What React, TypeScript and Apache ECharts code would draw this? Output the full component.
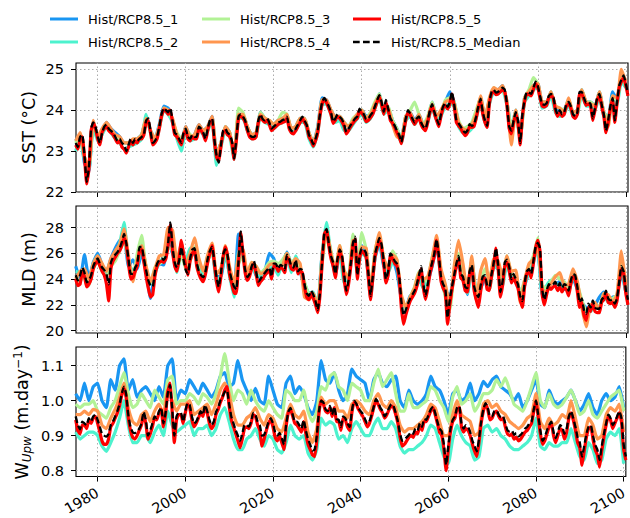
import React, { useEffect, useRef } from "react";
import * as echarts from "echarts";

const START_YEAR = 1975;

// ---------- Sea surface temperature (°C) ----------
// half-yearly values, 1975.0 .. 2100.5
const sstMedian = [
  23.2, 23.1, 23.35, 23.4, 22.9, 22.25, 22.6, 23.55, 23.7, 23.6,
  23.35, 23.2, 23.45, 23.6, 23.65, 23.55, 23.5, 23.45, 23.35, 23.25,
  23.3, 23.2, 23.15, 23.0, 23.15, 23.3, 23.2, 23.3, 23.25, 23.3,
  23.35, 23.4, 23.75, 23.8, 23.5, 23.2, 23.25, 23.35, 23.6, 23.9,
  24.05, 24.0, 23.95, 24.05, 23.75, 23.45, 23.4, 23.3, 23.2, 23.45,
  23.55, 23.35, 23.3, 23.4, 23.35, 23.35, 23.6, 23.55, 23.45, 23.3,
  23.55, 23.75, 23.8, 23.3, 22.9, 22.72, 23.15, 23.5, 23.55, 23.45,
  23.4, 23.25, 22.82, 23.3, 23.85, 23.9, 23.85, 23.75, 23.55, 23.4,
  23.35, 23.35, 23.4, 23.75, 23.9, 23.78, 23.75, 23.8, 23.7, 23.55,
  23.6, 23.65, 23.7, 23.72, 23.76, 23.78, 23.84, 23.6, 23.5, 23.47,
  23.55, 23.65, 23.75, 23.84, 23.75, 23.64, 23.4, 23.3, 23.17, 23.3,
  23.5, 23.9, 24.2, 24.3, 24.21, 24.1, 23.95, 23.72, 23.8, 23.9,
  23.84, 23.78, 23.65, 23.47, 23.55, 23.64, 23.72, 23.8, 23.85, 24.04,
  23.96, 23.9, 23.78, 23.8, 23.88, 23.95, 24.1, 24.25, 24.37, 24.2,
  23.96, 24.25, 24.04, 23.8, 23.72, 23.62, 23.5, 23.4, 23.22, 23.5,
  23.8, 24.0, 23.92, 23.8, 23.7, 23.8, 23.85, 23.7, 23.6, 23.55,
  23.75, 24.0, 24.15, 23.96, 23.8, 23.65, 23.9, 24.1, 24.17, 24.08,
  24.2, 24.45, 24.15, 23.75, 23.68, 23.6, 23.5, 23.45, 23.5, 23.66,
  23.62, 23.65, 23.85, 24.1, 24.28, 23.95, 23.75, 23.62, 24.2, 24.45,
  24.5, 24.43, 24.45, 24.5, 24.55, 24.5, 24.15, 23.6, 23.5, 23.75,
  23.95, 23.75, 23.2, 23.9, 24.25, 24.45, 24.43, 24.4, 24.55, 24.7,
  24.6, 24.35, 24.15, 24.13, 24.17, 24.35, 24.4, 24.35, 24.05, 23.9,
  24.0, 23.9, 23.95, 24.15, 24.2, 24.1, 23.9, 23.85, 23.95, 24.45,
  24.45, 24.3, 24.18, 24.2, 24.15, 23.8, 24.05, 24.3, 24.4, 24.15,
  23.9, 23.5, 23.75, 24.1, 24.3, 23.75, 24.2, 24.6, 24.75, 24.85,
  24.65, 24.4,
];
const sstRun5 = [
  23.15, 23.05, 23.3, 23.35, 22.85, 22.2, 22.55, 23.5, 23.68, 23.55,
  23.3, 23.15, 23.45, 23.55, 23.6, 23.5, 23.45, 23.4, 23.3, 23.2,
  23.25, 23.1, 23.05, 22.95, 23.1, 23.25, 23.15, 23.25, 23.2, 23.3,
  23.3, 23.4, 23.7, 23.75, 23.45, 23.15, 23.2, 23.3, 23.55, 23.85,
  24.0, 23.98, 23.9, 24.0, 23.7, 23.4, 23.35, 23.25, 23.15, 23.4,
  23.5, 23.3, 23.25, 23.35, 23.3, 23.3, 23.55, 23.5, 23.4, 23.25,
  23.5, 23.7, 23.75, 23.25, 22.85, 22.75, 23.1, 23.45, 23.5, 23.4,
  23.35, 23.2, 22.8, 23.25, 23.8, 23.85, 23.8, 23.7, 23.5, 23.35,
  23.3, 23.3, 23.35, 23.7, 23.85, 23.75, 23.7, 23.75, 23.65, 23.5,
  23.55, 23.6, 23.65, 23.68, 23.7, 23.72, 23.8, 23.55, 23.45, 23.42,
  23.5, 23.6, 23.7, 23.8, 23.7, 23.6, 23.35, 23.25, 23.12, 23.25,
  23.45, 23.85, 24.15, 24.28, 24.18, 24.05, 23.9, 23.68, 23.75, 23.85,
  23.8, 23.72, 23.6, 23.42, 23.5, 23.6, 23.68, 23.75, 23.8, 24.0,
  23.92, 23.85, 23.72, 23.75, 23.82, 23.9, 24.05, 24.2, 24.32, 24.15,
  23.9, 24.2, 24.0, 23.75, 23.68, 23.58, 23.45, 23.35, 23.18, 23.45,
  23.75, 23.95, 23.88, 23.75, 23.65, 23.75, 23.8, 23.65, 23.55, 23.5,
  23.7, 23.95, 24.1, 23.92, 23.75, 23.6, 23.85, 24.05, 24.12, 24.03,
  24.15, 24.4, 24.1, 23.7, 23.62, 23.55, 23.45, 23.38, 23.45, 23.6,
  23.58, 23.6, 23.8, 24.05, 24.22, 23.9, 23.7, 23.58, 24.15, 24.4,
  24.45, 24.38, 24.4, 24.45, 24.5, 24.45, 24.1, 23.55, 23.42, 23.7,
  23.9, 23.7, 23.15, 23.85, 24.2, 24.4, 24.38, 24.35, 24.5, 24.65,
  24.55, 24.3, 24.1, 24.08, 24.12, 24.3, 24.35, 24.3, 24.0, 23.85,
  23.95, 23.85, 23.9, 24.1, 24.15, 24.05, 23.85, 23.8, 23.9, 24.4,
  24.4, 24.25, 24.12, 24.15, 24.1, 23.75, 24.0, 24.25, 24.35, 24.1,
  23.85, 23.45, 23.7, 24.05, 24.25, 23.7, 24.15, 24.55, 24.7, 24.8,
  24.6, 24.35,
];
// yearly values, 1975 .. 2100
const sstRun1 = [
  23.25, 23.4, 22.7, 22.5, 23.72, 23.35, 23.5, 23.7, 23.55, 23.45,
  23.35, 23.2, 23.2, 23.25, 23.3, 23.4, 23.8, 23.5, 23.3, 23.65,
  24.1, 24.05, 23.75, 23.4, 23.25, 23.6, 23.35, 23.4, 23.65, 23.5,
  23.6, 23.85, 22.95, 23.2, 23.6, 23.45, 22.9, 23.9, 23.9, 23.6,
  23.4, 23.45, 23.95, 23.8, 23.72, 23.65, 23.75, 23.8, 23.85, 23.55,
  23.6, 23.8, 23.8, 23.45, 23.2, 23.6, 24.3, 24.25, 24.0, 23.85,
  23.85, 23.7, 23.6, 23.75, 23.9, 24.0, 23.85, 23.9, 24.15, 24.4,
  24.0, 24.05, 23.75, 23.55, 23.3, 23.85, 23.95, 23.75, 23.9, 23.65,
  23.8, 24.2, 23.85, 23.95, 24.2, 24.45, 24.2, 23.7, 23.55, 23.55,
  23.65, 23.9, 24.3, 23.8, 24.25, 24.5, 24.5, 24.6, 24.2, 23.55,
  24.0, 23.4, 24.3, 24.45, 24.6, 24.65, 24.2, 24.2, 24.45, 24.1,
  23.95, 24.0, 24.25, 23.95, 24.0, 24.5, 24.2, 24.2, 24.1, 24.45,
  23.95, 23.8, 24.45, 24.25, 24.8, 24.7,
];
const sstRun2 = [
  23.0, 23.3, 22.8, 22.55, 23.6, 23.25, 23.4, 23.6, 23.45, 23.3,
  23.2, 23.05, 23.1, 23.15, 23.2, 23.3, 23.9, 23.45, 23.2, 23.55,
  24.0, 23.9, 23.7, 23.3, 23.0, 23.5, 23.25, 23.3, 23.55, 23.4,
  23.5, 23.75, 22.65, 23.1, 23.5, 23.35, 22.8, 23.8, 23.8, 23.5,
  23.3, 23.35, 23.85, 23.7, 23.65, 23.55, 23.65, 23.7, 23.8, 23.45,
  23.5, 23.7, 23.7, 23.3, 23.1, 23.45, 24.15, 24.15, 23.9, 23.7,
  23.75, 23.5, 23.5, 23.65, 23.8, 23.9, 23.7, 23.8, 24.05, 24.3,
  23.9, 24.0, 23.65, 23.45, 23.2, 23.75, 23.85, 23.65, 23.8, 23.55,
  23.7, 24.1, 23.75, 23.85, 24.1, 24.15, 24.1, 23.6, 23.45, 23.45,
  23.55, 23.8, 24.2, 23.7, 24.15, 24.45, 24.4, 24.5, 24.1, 23.45,
  23.9, 23.3, 24.2, 24.35, 24.5, 24.55, 24.05, 24.1, 24.35, 23.95,
  23.85, 23.9, 24.15, 23.85, 23.9, 24.4, 24.1, 24.1, 24.0, 24.35,
  23.85, 23.7, 24.25, 24.15, 24.7, 24.55,
];
const sstRun3 = [
  23.2, 23.4, 22.85, 22.6, 23.7, 23.4, 23.5, 23.65, 23.5, 23.35,
  23.3, 23.2, 23.2, 23.25, 23.3, 23.4, 23.8, 23.5, 23.3, 23.6,
  24.05, 24.0, 23.75, 23.45, 23.3, 23.55, 23.4, 23.35, 23.6, 23.45,
  23.6, 23.8, 22.9, 23.2, 23.6, 23.45, 22.9, 24.05, 23.95, 23.6,
  23.4, 23.45, 23.95, 23.8, 23.75, 23.65, 23.75, 23.95, 23.9, 23.55,
  23.6, 23.8, 23.8, 23.45, 23.2, 23.55, 24.25, 24.2, 24.0, 23.8,
  23.85, 23.7, 23.6, 23.8, 23.9, 24.0, 23.8, 23.95, 24.2, 24.4,
  24.0, 24.1, 23.75, 23.55, 23.3, 23.85, 24.0, 24.2, 23.9, 23.65,
  23.85, 24.2, 23.85, 23.95, 24.25, 24.3, 24.2, 23.75, 23.55, 23.6,
  23.7, 24.0, 24.3, 23.8, 24.25, 24.55, 24.45, 24.55, 24.2, 23.55,
  24.0, 23.3, 24.3, 24.5, 24.8, 24.65, 24.2, 24.2, 24.45, 24.1,
  24.05, 24.0, 24.25, 23.95, 23.95, 24.5, 24.2, 24.2, 24.1, 24.45,
  23.95, 23.8, 24.35, 24.25, 24.8, 24.6,
];
const sstRun4 = [
  23.25, 23.45, 22.85, 22.6, 23.75, 23.35, 23.55, 23.7, 23.55, 23.4,
  23.35, 23.2, 23.2, 23.3, 23.3, 23.4, 23.8, 23.5, 23.3, 23.6,
  24.05, 24.0, 23.8, 23.4, 23.2, 23.6, 23.35, 23.4, 23.65, 23.5,
  23.6, 23.85, 22.9, 23.2, 23.6, 23.45, 22.85, 23.9, 23.9, 23.6,
  23.4, 23.45, 23.9, 23.8, 23.75, 23.65, 23.75, 23.8, 23.9, 23.55,
  23.6, 23.8, 23.8, 23.45, 23.2, 23.55, 24.25, 24.25, 24.0, 23.85,
  23.85, 23.7, 23.6, 23.75, 23.9, 24.0, 23.8, 23.9, 24.15, 24.35,
  23.95, 24.05, 23.65, 23.35, 23.3, 23.85, 23.95, 23.7, 23.9, 23.6,
  23.8, 24.15, 23.85, 24.0, 24.2, 24.25, 24.15, 23.7, 23.55, 23.5,
  23.65, 23.9, 24.35, 23.8, 24.3, 24.55, 24.5, 24.6, 24.2, 23.15,
  24.0, 23.3, 24.3, 24.45, 24.6, 24.65, 24.2, 24.2, 24.45, 24.1,
  24.05, 23.95, 24.3, 23.95, 24.0, 24.5, 24.2, 24.15, 24.1, 24.45,
  23.9, 23.6, 24.35, 24.3, 25.0, 24.7,
];

// ---------- Mixed layer depth (m) ----------
const mldMedian = [
  24.3, 23.9, 24.3, 24.9, 24.5, 23.75, 23.9, 24.3, 25.0, 25.4,
  25.6, 25.2, 24.9, 24.7, 24.4, 23.6, 25.3, 25.7, 25.9, 26.1,
  26.4, 26.9, 27.5, 26.8, 25.6, 24.4, 24.4, 24.9, 25.2, 26.5,
  26.5, 25.6, 24.7, 23.9, 23.5, 23.4, 24.6, 25.2, 25.5, 25.6,
  25.5, 25.8, 26.8, 28.4, 26.5, 25.3, 24.9, 25.4, 26.5, 25.5,
  24.7, 24.4, 25.6, 26.3, 26.4, 25.3, 24.6, 24.3, 24.15, 24.6,
  25.6, 26.2, 26.5, 25.4, 24.15, 23.4, 24.5, 25.9, 26.3, 25.9,
  24.6, 23.9, 23.4, 23.2, 25.4, 27.7, 26.0, 24.7, 24.15, 24.4,
  25.0, 25.4, 24.6, 23.8, 24.0, 24.3, 24.5, 24.7, 24.9, 24.2,
  25.2, 25.2, 24.8, 25.1, 25.0, 24.7, 25.9, 25.6, 25.0, 24.9,
  25.5, 24.6, 24.8, 24.7, 23.6, 22.9, 22.7, 23.1, 22.8, 22.3,
  21.6, 22.9, 25.4, 27.6, 27.9, 26.8, 25.8, 25.3, 24.4, 25.6,
  26.3, 25.9, 24.4, 23.1, 23.9, 25.2, 26.8, 27.3, 24.3, 25.8,
  26.4, 26.3, 26.0, 24.5, 22.7, 24.2, 25.9, 26.6, 27.2, 26.7,
  25.4, 24.0, 24.6, 26.0, 25.8, 25.4, 25.2, 24.3, 22.3, 21.2,
  21.6, 22.1, 22.5, 22.8, 23.1, 23.6, 24.3, 25.0, 23.6, 22.7,
  23.6, 24.6, 25.3, 26.0, 27.1, 25.9, 24.2, 23.6, 23.3, 21.0,
  22.4, 23.4, 24.3, 25.2, 25.8, 24.4, 24.2, 23.4, 23.3, 24.6,
  25.1, 23.5, 22.9, 22.6, 23.5, 24.2, 24.3, 23.5, 23.4, 24.4,
  25.3, 26.4, 25.1, 23.0, 23.8, 25.3, 25.5, 25.0, 24.0, 24.4,
  24.0, 23.6, 22.7, 22.3, 23.7, 24.6, 24.8, 24.4, 25.4, 26.5,
  26.8, 26.4, 23.2, 22.4, 23.1, 23.6, 23.5, 23.6, 23.8, 23.4,
  23.7, 23.3, 23.6, 23.5, 23.1, 23.9, 24.4, 24.3, 23.4, 22.2,
  22.5, 21.6, 21.3, 22.1, 21.8, 22.35, 21.8, 21.7, 21.7, 22.4,
  22.6, 23.1, 22.5, 22.35, 22.4, 22.1, 22.5, 23.8, 25.0, 24.6,
  23.2, 22.4,
];
const mldRun5 = [
  24.0, 23.5, 23.6, 24.5, 24.2, 23.4, 23.6, 24.0, 24.8, 25.2,
  25.4, 25.0, 24.6, 24.3, 23.6, 22.3, 24.8, 25.4, 25.7, 26.0,
  26.2, 26.6, 27.2, 26.6, 25.2, 24.0, 24.1, 24.6, 25.0, 26.2,
  26.3, 25.3, 24.2, 23.3, 22.6, 22.8, 24.2, 25.0, 25.3, 25.4,
  25.3, 25.6, 26.6, 28.2, 26.2, 25.0, 24.6, 25.6, 27.0, 26.0,
  25.0, 24.3, 25.4, 26.0, 26.2, 25.0, 24.4, 24.0, 23.8, 24.4,
  25.3, 26.0, 26.6, 25.2, 23.8, 23.0, 24.2, 25.7, 26.5, 25.8,
  24.3, 23.6, 22.9, 22.9, 25.2, 27.6, 26.0, 24.5, 23.9, 24.2,
  24.8, 25.2, 24.4, 23.5, 23.8, 24.0, 24.3, 24.5, 24.7, 24.0,
  25.0, 25.0, 24.6, 24.9, 24.8, 24.5, 25.7, 25.4, 24.8, 24.7,
  25.3, 24.4, 24.6, 24.5, 23.4, 22.6, 22.4, 22.9, 22.5, 22.0,
  21.4, 22.7, 25.2, 27.5, 27.8, 26.6, 25.6, 25.0, 24.1, 25.4,
  26.1, 25.6, 24.0, 22.8, 23.6, 25.0, 26.6, 27.1, 24.0, 25.6,
  26.2, 26.0, 25.7, 24.1, 22.4, 24.0, 25.7, 26.4, 27.0, 26.4,
  25.1, 23.7, 24.3, 25.8, 25.6, 25.2, 25.0, 24.0, 21.8, 20.5,
  21.2, 21.8, 22.3, 22.6, 22.9, 23.4, 24.1, 24.8, 23.3, 22.4,
  23.3, 24.4, 25.1, 25.8, 27.0, 25.6, 23.9, 23.3, 22.9, 20.5,
  22.0, 23.2, 24.1, 25.0, 25.6, 24.1, 23.9, 23.1, 23.0, 24.4,
  24.9, 23.2, 22.4, 21.8, 23.0, 24.0, 24.1, 23.2, 23.1, 24.2,
  25.1, 26.4, 24.8, 22.6, 23.5, 25.0, 25.3, 24.7, 23.7, 24.1,
  23.7, 23.3, 22.4, 21.8, 23.4, 24.4, 24.6, 24.1, 25.2, 26.4,
  27.0, 26.2, 22.8, 22.0, 22.8, 23.4, 23.2, 23.4, 23.5, 23.1,
  23.4, 23.0, 23.3, 23.2, 22.7, 23.6, 24.2, 24.0, 23.0, 21.8,
  22.2, 21.2, 20.8, 21.8, 21.5, 22.1, 21.5, 21.4, 21.4, 22.2,
  22.4, 22.9, 22.2, 22.1, 22.2, 21.8, 22.3, 23.6, 24.8, 24.4,
  22.9, 22.0,
];
const mldRun1 = [
  25.0, 24.0, 25.9, 24.0, 25.3, 26.0, 25.1, 24.5, 25.6, 26.4,
  27.0, 27.2, 25.0, 25.5, 24.8, 26.0, 24.6, 22.5, 24.5, 25.2,
  25.1, 27.0, 26.0, 25.1, 26.2, 25.0, 25.6, 26.1, 24.8, 24.5,
  25.5, 26.2, 24.2, 24.2, 26.0, 24.3, 23.0, 27.5, 26.2, 24.0,
  25.1, 24.3, 24.1, 24.6, 26.0, 25.6, 24.5, 25.2, 26.1, 25.2,
  25.4, 24.6, 23.4, 22.9, 22.6, 22.0, 26.0, 27.8, 26.0, 24.3,
  26.0, 24.2, 24.0, 26.5, 25.0, 26.6, 25.8, 23.0, 25.6, 26.8,
  25.0, 24.8, 25.6, 24.5, 22.5, 21.8, 22.7, 23.0, 24.0, 23.4,
  23.8, 25.0, 26.5, 24.5, 23.2, 22.6, 24.5, 25.2, 24.0, 22.8,
  25.5, 23.2, 23.3, 24.0, 23.6, 25.0, 24.8, 24.0, 25.2, 24.2,
  24.2, 22.9, 23.5, 24.6, 25.6, 26.2, 22.8, 23.4, 23.8, 23.6,
  23.8, 23.2, 23.4, 24.0, 23.2, 22.2, 21.8, 21.8, 22.0, 22.6,
  23.0, 22.4, 22.6, 22.7, 24.5, 23.0,
];
const mldRun2 = [
  24.6, 24.5, 24.6, 23.7, 25.2, 25.8, 24.7, 24.6, 25.5, 26.0,
  26.8, 28.4, 25.2, 24.7, 25.0, 26.8, 24.9, 23.6, 24.4, 25.4,
  25.6, 27.2, 26.6, 24.5, 26.0, 25.4, 26.4, 26.3, 24.9, 24.4,
  25.8, 26.2, 23.7, 24.3, 26.0, 24.2, 22.6, 26.2, 25.8, 24.3,
  24.9, 24.4, 24.2, 24.3, 24.8, 25.0, 24.3, 25.3, 25.6, 24.5,
  25.8, 24.9, 23.7, 22.9, 23.0, 21.9, 26.0, 28.4, 25.9, 24.5,
  26.0, 23.7, 24.1, 26.5, 24.7, 26.0, 25.7, 22.6, 25.6, 27.0,
  25.2, 24.5, 25.3, 25.0, 22.6, 21.7, 22.5, 23.3, 24.0, 23.3,
  23.9, 25.3, 26.8, 24.0, 22.8, 22.3, 24.5, 25.6, 24.1, 22.9,
  24.6, 22.5, 23.6, 24.2, 23.2, 25.0, 24.8, 23.5, 25.3, 24.0,
  24.1, 22.9, 23.6, 24.5, 25.3, 26.5, 22.8, 23.5, 23.9, 23.7,
  23.5, 23.4, 23.0, 24.2, 23.4, 22.3, 21.4, 21.5, 21.9, 21.9,
  22.8, 22.2, 22.3, 22.6, 24.8, 23.0,
];
const mldRun3 = [
  24.2, 23.8, 24.4, 23.5, 24.8, 25.4, 24.6, 24.2, 25.0, 25.4,
  26.2, 27.0, 25.4, 24.1, 26.0, 27.4, 24.6, 23.7, 24.9, 25.2,
  25.4, 26.5, 26.2, 24.6, 26.0, 24.8, 25.4, 26.5, 24.4, 24.0,
  25.4, 26.2, 24.4, 24.8, 26.2, 24.8, 23.6, 25.2, 25.8, 24.5,
  25.3, 25.0, 24.5, 24.8, 25.3, 25.4, 25.2, 25.5, 26.0, 25.3,
  25.6, 24.8, 23.8, 22.8, 22.9, 21.8, 25.2, 27.6, 26.2, 24.6,
  26.6, 24.6, 24.2, 27.5, 24.6, 27.6, 26.3, 23.2, 26.2, 27.4,
  25.6, 24.8, 26.2, 25.5, 22.6, 21.8, 22.6, 23.4, 24.6, 23.8,
  24.0, 25.7, 27.0, 24.6, 22.6, 21.6, 24.6, 26.0, 24.6, 23.6,
  25.3, 23.2, 23.8, 24.8, 24.0, 25.4, 25.0, 23.7, 25.8, 24.4,
  24.2, 22.9, 23.9, 25.0, 25.8, 27.2, 23.5, 23.3, 23.8, 24.3,
  24.0, 23.8, 23.3, 24.6, 23.6, 22.4, 21.5, 21.6, 22.0, 21.8,
  22.9, 22.6, 22.5, 22.8, 25.3, 23.4,
];
const mldRun4 = [
  24.0, 24.6, 24.8, 24.0, 25.2, 25.8, 25.2, 24.6, 25.6, 26.2,
  26.7, 27.9, 25.8, 23.8, 25.5, 26.6, 25.0, 23.8, 24.8, 25.8,
  25.9, 28.0, 27.8, 25.4, 26.8, 25.1, 26.0, 27.2, 25.6, 24.6,
  25.9, 26.8, 24.4, 24.8, 26.6, 24.9, 23.7, 25.8, 26.3, 24.4,
  25.3, 25.0, 24.4, 24.6, 25.1, 25.2, 24.9, 25.1, 26.0, 25.1,
  25.6, 25.2, 22.6, 22.4, 22.9, 21.8, 25.8, 27.8, 26.0, 24.7,
  26.6, 24.7, 24.0, 27.0, 24.5, 26.5, 26.4, 23.2, 26.0, 27.6,
  25.6, 24.8, 25.9, 25.5, 22.8, 21.8, 22.6, 23.3, 24.5, 24.0,
  24.2, 25.6, 27.4, 24.8, 23.6, 22.0, 25.0, 27.0, 25.2, 23.0,
  25.8, 22.4, 24.6, 25.6, 23.6, 25.6, 25.4, 24.2, 25.8, 24.6,
  24.7, 22.2, 23.9, 25.2, 25.5, 26.6, 23.2, 23.0, 23.6, 24.2,
  24.5, 23.5, 23.6, 24.8, 23.8, 21.8, 20.3, 22.0, 22.2, 21.6,
  22.9, 22.8, 22.2, 22.8, 26.2, 23.6,
];

// ---------- Upwelling velocity (m/day) ----------
const wMedian = [
  0.955, 0.93, 0.918, 0.94, 0.935, 0.93, 0.95, 0.94, 0.955, 0.96,
  0.945, 0.926, 0.905, 0.9, 0.897, 0.905, 0.93, 0.94, 0.955, 0.97,
  0.99, 1.02, 1.04, 1.02, 0.96, 0.925, 0.91, 0.907, 0.912, 0.92,
  0.935, 0.968, 0.945, 0.9, 0.915, 0.935, 0.955, 0.95, 0.97, 0.98,
  0.935, 0.965, 1.02, 1.045, 0.98, 0.9, 0.955, 0.965, 0.965, 0.94,
  0.97, 0.993, 0.988, 0.955, 0.935, 0.94, 0.955, 0.97, 0.96, 0.988,
  0.97, 0.945, 0.93, 0.94, 0.968, 0.98, 1.0, 1.012, 1.025, 1.03,
  0.99, 0.955, 0.935, 0.915, 0.9, 0.885, 0.905, 0.93, 0.93, 0.926,
  0.94, 0.965, 0.96, 0.94, 0.93, 0.9, 0.902, 0.92, 0.94, 0.95,
  0.935, 0.91, 0.9, 0.908, 0.893, 0.874, 0.93, 0.968, 0.979, 0.96,
  0.94, 0.94, 0.93, 0.92, 0.945, 0.915, 0.89, 0.874, 0.857, 0.86,
  0.9, 0.97, 1.0, 0.995, 0.975, 0.97, 0.985, 0.96, 0.983, 0.948,
  0.945, 0.925, 0.955, 0.95, 0.935, 0.925, 0.97, 1.0, 0.992, 0.978,
  0.97, 0.962, 0.947, 0.935, 0.94, 0.96, 0.983, 1.005, 0.995, 0.98,
  0.97, 0.955, 0.965, 0.98, 0.99, 0.985, 0.965, 0.94, 0.905, 0.885,
  0.888, 0.895, 0.902, 0.91, 0.905, 0.92, 0.915, 0.935, 0.925, 0.948,
  0.945, 0.96, 0.975, 0.983, 0.965, 0.94, 0.92, 0.912, 0.874, 0.816,
  0.87, 0.92, 0.945, 0.955, 0.98, 0.985, 0.935, 0.92, 0.93, 0.925,
  0.91, 0.885, 0.87, 0.855, 0.89, 0.94, 0.975, 0.993, 0.98, 0.955,
  0.955, 0.97, 0.972, 0.96, 0.952, 0.955, 0.935, 0.915, 0.912, 0.915,
  0.902, 0.907, 0.898, 0.902, 0.91, 0.92, 0.925, 0.935, 0.94, 0.975,
  1.0, 0.96, 0.915, 0.885, 0.895, 0.915, 0.93, 0.94, 0.91, 0.893,
  0.91, 0.93, 0.925, 0.905, 0.92, 0.955, 0.97, 0.95, 0.925, 0.895,
  0.88, 0.84, 0.87, 0.905, 0.925, 0.93, 0.9, 0.874, 0.86, 0.83,
  0.87, 0.905, 0.935, 0.96, 0.95, 0.93, 0.94, 0.955, 0.97, 0.95,
  0.875, 0.84,
];
const wRun5 = [
  0.945, 0.915, 0.905, 0.93, 0.93, 0.92, 0.945, 0.935, 0.95, 0.955,
  0.935, 0.91, 0.885, 0.875, 0.875, 0.89, 0.925, 0.935, 0.95, 0.965,
  0.985, 1.015, 1.035, 1.01, 0.95, 0.915, 0.895, 0.89, 0.9, 0.915,
  0.93, 0.96, 0.935, 0.89, 0.905, 0.925, 0.95, 0.945, 0.965, 0.975,
  0.925, 0.96, 1.025, 1.05, 0.97, 0.88, 0.945, 0.96, 0.96, 0.935,
  0.965, 0.99, 0.98, 0.945, 0.925, 0.935, 0.95, 0.965, 0.955, 0.98,
  0.965, 0.935, 0.92, 0.93, 0.96, 0.975, 0.995, 1.01, 1.03, 1.04,
  0.985, 0.945, 0.925, 0.905, 0.885, 0.865, 0.89, 0.92, 0.925, 0.92,
  0.935, 0.96, 0.955, 0.93, 0.915, 0.87, 0.89, 0.915, 0.935, 0.945,
  0.925, 0.895, 0.885, 0.9, 0.88, 0.86, 0.925, 0.965, 0.975, 0.955,
  0.935, 0.93, 0.92, 0.91, 0.94, 0.905, 0.875, 0.86, 0.845, 0.84,
  0.885, 0.965, 1.0, 0.99, 0.97, 0.965, 0.98, 0.955, 0.98, 0.94,
  0.94, 0.915, 0.95, 0.945, 0.925, 0.915, 0.965, 0.995, 0.99, 0.975,
  0.965, 0.955, 0.94, 0.925, 0.935, 0.955, 0.98, 1.0, 0.99, 0.975,
  0.965, 0.95, 0.96, 0.975, 0.985, 0.98, 0.96, 0.935, 0.895, 0.87,
  0.875, 0.885, 0.895, 0.9, 0.895, 0.91, 0.905, 0.93, 0.915, 0.94,
  0.94, 0.955, 0.97, 0.98, 0.96, 0.935, 0.91, 0.9, 0.86, 0.8,
  0.86, 0.91, 0.94, 0.95, 0.975, 0.98, 0.925, 0.91, 0.92, 0.915,
  0.9, 0.875, 0.855, 0.84, 0.88, 0.935, 0.97, 0.99, 0.975, 0.945,
  0.95, 0.965, 0.97, 0.955, 0.945, 0.95, 0.925, 0.905, 0.9, 0.905,
  0.89, 0.895, 0.885, 0.89, 0.9, 0.91, 0.915, 0.925, 0.935, 0.97,
  1.0, 0.955, 0.905, 0.875, 0.885, 0.905, 0.925, 0.935, 0.9, 0.88,
  0.9, 0.92, 0.915, 0.89, 0.91, 0.95, 0.965, 0.945, 0.915, 0.88,
  0.865, 0.815, 0.855, 0.895, 0.92, 0.925, 0.89, 0.86, 0.845, 0.81,
  0.855, 0.895, 0.93, 0.955, 0.945, 0.92, 0.935, 0.95, 0.965, 0.94,
  0.86, 0.83,
];
const wRun1 = [
  1.02, 1.0, 1.05, 1.0, 1.04, 1.05, 1.0, 0.98, 1.06, 1.03,
  1.1, 1.12, 1.03, 1.06, 1.01, 1.03, 1.04, 1.02, 1.0, 1.04,
  1.01, 1.1, 1.12, 1.0, 1.03, 1.02, 1.06, 1.04, 1.02, 1.05,
  1.03, 1.01, 1.03, 1.07, 1.08, 1.04, 1.05, 1.115, 1.06, 1.03,
  1.0, 1.035, 1.0, 0.99, 1.07, 1.03, 0.99, 0.98, 1.05, 1.07,
  1.02, 1.04, 1.02, 0.98, 0.96, 1.0, 1.115, 1.06, 1.05, 1.08,
  1.03, 1.0, 1.02, 1.09, 1.07, 1.06, 1.05, 1.0, 1.06, 1.08,
  1.05, 1.04, 1.06, 1.07, 1.0, 0.98, 1.03, 1.0, 0.99, 1.0,
  1.02, 1.07, 1.04, 1.03, 1.0, 0.96, 1.02, 1.03, 1.0, 1.01,
  1.05, 1.0, 1.02, 1.055, 1.04, 1.06, 1.07, 1.04, 1.03, 1.02,
  1.0, 1.02, 0.98, 1.0, 1.03, 1.06, 0.99, 0.98, 1.03, 1.0,
  0.99, 1.0, 1.01, 1.03, 1.0, 0.97, 0.99, 1.02, 0.98, 0.96,
  1.0, 1.02, 1.0, 1.01, 1.04, 0.98,
];
const wRun2 = [
  0.91, 0.89, 0.9, 0.91, 0.91, 0.9, 0.87, 0.855, 0.88, 0.91,
  0.95, 1.0, 0.93, 0.88, 0.88, 0.9, 0.9, 0.88, 0.91, 0.93,
  0.9, 0.97, 0.93, 0.91, 0.92, 0.93, 0.94, 0.9, 0.92, 0.92,
  0.93, 0.9, 0.92, 0.96, 0.98, 0.94, 0.89, 0.86, 0.86, 0.89,
  0.9, 0.92, 0.89, 0.87, 0.9, 0.89, 0.86, 0.85, 0.88, 0.93,
  0.9, 0.89, 0.9, 0.85, 0.83, 0.86, 0.95, 0.93, 0.94, 0.93,
  0.89, 0.9, 0.88, 0.92, 0.94, 0.92, 0.9, 0.9, 0.93, 0.95,
  0.92, 0.92, 0.94, 0.92, 0.87, 0.85, 0.86, 0.86, 0.87, 0.88,
  0.9, 0.93, 0.92, 0.88, 0.84, 0.82, 0.89, 0.93, 0.9, 0.88,
  0.87, 0.83, 0.84, 0.92, 0.93, 0.91, 0.92, 0.9, 0.89, 0.87,
  0.86, 0.86, 0.87, 0.88, 0.9, 0.95, 0.87, 0.86, 0.88, 0.87,
  0.87, 0.88, 0.88, 0.92, 0.88, 0.84, 0.83, 0.88, 0.86, 0.82,
  0.83, 0.89, 0.91, 0.9, 0.92, 0.82,
];
const wRun3 = [
  0.99, 0.98, 0.99, 0.99, 1.0, 0.97, 0.96, 0.95, 0.98, 1.0,
  1.04, 1.08, 1.02, 0.98, 0.99, 1.02, 1.0, 0.98, 1.03, 1.01,
  0.99, 1.06, 1.07, 0.99, 1.0, 1.0, 1.02, 1.01, 0.99, 1.02,
  1.01, 0.99, 1.02, 1.07, 1.135, 1.06, 1.0, 1.03, 1.02, 0.99,
  1.03, 1.0, 0.98, 0.97, 1.0, 0.98, 0.96, 0.95, 1.03, 1.02,
  1.0, 1.0, 1.03, 0.97, 0.94, 0.97, 1.04, 1.03, 1.07, 1.08,
  1.04, 1.03, 1.0, 1.05, 1.04, 1.03, 1.0, 1.0, 1.05, 1.09,
  1.04, 1.06, 1.08, 1.02, 0.97, 0.97, 1.02, 0.98, 0.98, 0.99,
  1.0, 1.04, 1.03, 1.0, 0.98, 0.94, 1.01, 1.04, 0.99, 1.0,
  1.02, 0.97, 0.99, 1.02, 1.02, 1.03, 1.06, 1.04, 1.065, 1.03,
  0.99, 0.98, 0.97, 1.0, 1.04, 1.08, 1.0, 0.98, 1.02, 0.99,
  0.98, 0.99, 1.01, 1.03, 1.0, 0.96, 0.97, 1.0, 0.96, 0.95,
  0.97, 0.99, 1.01, 1.02, 1.03, 0.97,
];
const wRun4 = [
  0.96, 0.96, 0.97, 0.96, 0.975, 0.97, 0.93, 0.92, 0.95, 0.975,
  1.01, 1.05, 0.98, 0.94, 0.93, 0.96, 0.97, 0.94, 0.97, 0.99,
  0.96, 1.03, 1.0, 0.97, 0.99, 0.99, 1.0, 0.96, 0.97, 0.98,
  0.99, 0.96, 0.99, 1.03, 1.05, 1.02, 0.96, 0.93, 0.93, 0.95,
  0.96, 0.98, 0.95, 0.93, 0.96, 0.95, 0.92, 0.91, 0.95, 0.99,
  0.96, 0.95, 0.97, 0.91, 0.88, 0.92, 1.01, 0.99, 1.0, 1.0,
  0.97, 0.97, 0.95, 0.99, 1.0, 0.99, 0.97, 0.96, 1.0, 1.02,
  0.99, 0.98, 1.0, 0.98, 0.93, 0.91, 0.92, 0.92, 0.93, 0.94,
  0.96, 0.99, 0.98, 0.94, 0.9, 0.9, 0.96, 1.0, 0.96, 0.95,
  0.94, 0.9, 0.91, 0.99, 1.0, 0.98, 0.99, 0.97, 0.96, 0.94,
  0.93, 0.92, 0.93, 0.95, 0.96, 1.02, 0.94, 0.92, 0.95, 0.93,
  0.94, 0.96, 0.95, 1.0, 0.95, 0.9, 0.9, 0.95, 0.93, 0.89,
  0.9, 0.96, 0.98, 0.97, 0.99, 0.91,
];

const runNames = [
  "Hist/RCP8.5_1",
  "Hist/RCP8.5_2",
  "Hist/RCP8.5_3",
  "Hist/RCP8.5_4",
  "Hist/RCP8.5_5",
  "Hist/RCP8.5_Median",
];
const runColors = ["#1996f2", "#4df2ce", "#b2f296", "#ff964f", "#ff0000", "#000000"];

const yearTicks = [1980, 2000, 2020, 2040, 2060, 2080, 2100];
const sstTicks = [22, 23, 24, 25];
const mldTicks = [20, 22, 24, 26, 28];
const wTicks = [0.8, 0.9, 1.0, 1.1];

const FONT = "DejaVu Sans";
const TICK_FONT = 14.5;
const LEGEND_FONT = 13;
const MEDIAN_DASH = [6.7, 3.3];
const SMOOTH = 0.15;

const halfYearly = (vals: number[]) => vals.map((v, i) => [START_YEAR + i * 0.5, v]);
const yearly = (vals: number[]) => vals.map((v, i) => [START_YEAR + i, v]);

const panels = [
  {
    runs: [sstRun1, sstRun2, sstRun3, sstRun4],
    run5: sstRun5,
    median: sstMedian,
    ticks: sstTicks,
    min: 22,
    max: 25.154,
    digits: 0,
    grid: { left: 76, top: 63, width: 552, height: 129 },
  },
  {
    runs: [mldRun1, mldRun2, mldRun3, mldRun4],
    run5: mldRun5,
    median: mldMedian,
    ticks: mldTicks,
    min: 19.82,
    max: 29.67,
    digits: 0,
    grid: { left: 76, top: 206, width: 552, height: 127 },
  },
  {
    runs: [wRun1, wRun2, wRun3, wRun4],
    run5: wRun5,
    median: wMedian,
    ticks: wTicks,
    min: 0.7828,
    max: 1.1536,
    digits: 1,
    grid: { left: 76, top: 347, width: 552, height: 130 },
  },
];

function buildOption() {
  const grids = panels.map((p) => ({
    ...p.grid,
    show: true,
    borderColor: "#000",
    borderWidth: 1.1,
    backgroundColor: "transparent",
    containLabel: false,
  }));

  const xAxes = panels.map((p, i) => ({
    type: "value",
    gridIndex: i,
    min: 1975.07,
    max: 2100.5,
    axisLine: { show: false },
    splitLine: { show: false },
    axisTick: {
      show: true,
      inside: false,
      length: 5,
      customValues: yearTicks,
      lineStyle: { color: "#000", width: 1 },
    },
    axisLabel: {
      show: i === panels.length - 1,
      customValues: yearTicks,
      rotate: 30,
      margin: 15,
      fontSize: TICK_FONT,
      fontFamily: FONT,
      color: "#000",
      formatter: (v: number) => String(Math.round(v)),
    },
  }));

  const yAxes = panels.map((p, i) => ({
    type: "value",
    gridIndex: i,
    min: p.min,
    max: p.max,
    axisLine: { show: false },
    splitLine: { show: false },
    axisTick: {
      show: true,
      inside: false,
      length: 5,
      customValues: p.ticks,
      lineStyle: { color: "#000", width: 1 },
    },
    axisLabel: {
      show: true,
      customValues: p.ticks,
      margin: 12,
      fontSize: TICK_FONT,
      fontFamily: FONT,
      color: "#000",
      formatter: (v: number) => v.toFixed(p.digits),
    },
  }));

  const series: any[] = [];
  panels.forEach((p, i) => {
    const gridLines = {
      silent: true,
      symbol: ["none", "none"],
      label: { show: false },
      emphasis: { disabled: true },
      animation: false,
      lineStyle: { color: "#aaaaaa", width: 1, type: [1.5, 2.5] },
      data: [
        ...yearTicks.map((v) => ({ xAxis: v })),
        ...p.ticks.map((v) => ({ yAxis: v })),
      ],
    };
    p.runs.forEach((vals, k) => {
      series.push({
        name: runNames[k],
        type: "line",
        xAxisIndex: i,
        yAxisIndex: i,
        data: yearly(vals),
        showSymbol: false,
        symbol: "none",
        smooth: SMOOTH,
        z: 10,
        silent: true,
        lineStyle: { color: runColors[k], width: 3.2, join: "round" },
        markLine: k === 0 ? gridLines : undefined,
      });
    });
    series.push({
      name: runNames[4],
      type: "line",
      xAxisIndex: i,
      yAxisIndex: i,
      data: halfYearly(p.run5),
      showSymbol: false,
      symbol: "none",
      smooth: SMOOTH,
      z: 10,
      silent: true,
      lineStyle: { color: runColors[4], width: 3.2, join: "round" },
    });
    series.push({
      name: runNames[5],
      type: "line",
      xAxisIndex: i,
      yAxisIndex: i,
      data: halfYearly(p.median),
      showSymbol: false,
      symbol: "none",
      smooth: SMOOTH,
      z: 10,
      silent: true,
      lineStyle: { color: runColors[5], width: 2.3, type: MEDIAN_DASH, cap: "butt" },
    });
  });

  // legend: three columns, two rows
  const legendCols = [50, 202, 353];
  const legendRows = [19, 42];
  const legendItems: any[] = [];
  runNames.forEach((name, idx) => {
    const x = legendCols[Math.floor(idx / 2)];
    const y = legendRows[idx % 2];
    const isMedian = idx === 5;
    legendItems.push({
      type: "line",
      shape: { x1: x, y1: y, x2: x + 28, y2: y },
      style: {
        stroke: runColors[idx],
        lineWidth: isMedian ? 2.3 : 3,
        lineDash: isMedian ? MEDIAN_DASH : null,
      },
      silent: true,
    });
    legendItems.push({
      type: "text",
      x: x + 38,
      y,
      style: {
        text: name,
        fill: "#000",
        fontSize: LEGEND_FONT,
        fontFamily: FONT,
        align: "left",
        verticalAlign: "middle",
      },
      silent: true,
    });
  });

  const titleStyle = { fill: "#000", fontSize: 17.5, fontFamily: FONT, align: "center", verticalAlign: "middle" };
  const yTitles = [
    { type: "text", x: 29, y: 127.5, rotation: Math.PI / 2, style: { ...titleStyle, text: "SST (°C)" }, silent: true },
    { type: "text", x: 29, y: 269.5, rotation: Math.PI / 2, style: { ...titleStyle, text: "MLD (m)" }, silent: true },
    {
      type: "text",
      x: 22,
      y: 412,
      rotation: Math.PI / 2,
      silent: true,
      style: {
        ...titleStyle,
        text: "{b|W}{sub|Upw}{b| (m.day}{sup|−1}{b|)}",
        rich: {
          b: { fontSize: 17.5, fontFamily: FONT, fill: "#000" },
          sub: { fontSize: 12, fontStyle: "italic", fontFamily: FONT, fill: "#000", padding: [9, 0, 0, 0] },
          sup: { fontSize: 12, fontFamily: FONT, fill: "#000", padding: [0, 0, 9, 0] },
        },
      },
    },
  ];

  return {
    animation: false,
    backgroundColor: "#ffffff",
    grid: grids,
    xAxis: xAxes,
    yAxis: yAxes,
    series,
    graphic: [...legendItems, ...yTitles],
  };
}

export default function App() {
  const ref = useRef<HTMLDivElement>(null);

  useEffect(() => {
    document.body.style.margin = "0";
    if (!ref.current) return;
    const chart = echarts.init(ref.current, null, { renderer: "svg", width: 630, height: 518 });
    chart.setOption(buildOption() as any);
    return () => {
      chart.dispose();
    };
  }, []);

  return <div ref={ref} style={{ width: 630, height: 518 }} />;
}
